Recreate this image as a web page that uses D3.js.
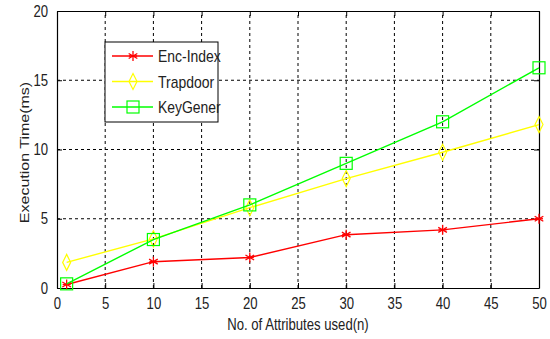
<!DOCTYPE html>
<html>
<head>
<meta charset="utf-8">
<script src="https://cdn.jsdelivr.net/npm/d3@7"></script>
<style>
  body { margin: 0; background: #fff; }
  text { font-family: "Liberation Sans", Arial, sans-serif; fill: #222; }
</style>
</head>
<body>
<script>
const attrs = [1, 10, 20, 30, 40, 50]
const encIndex = [0.25, 1.9, 2.2, 3.85, 4.2, 5.0]
const trapdoor = [1.85, 3.55, 5.8, 7.9, 9.8, 11.8]
const keyGener = [0.3, 3.5, 6.0, 9.0, 12.0, 15.9]
const xTicks = [0, 5, 10, 15, 20, 25, 30, 35, 40, 45, 50]
const yTicks = [0, 5, 10, 15, 20]

const series = [
  { name: 'Enc-Index', values: encIndex, color: '#ff0000', marker: 'star' },
  { name: 'Trapdoor', values: trapdoor, color: '#ffff00', marker: 'diamond' },
  { name: 'KeyGener', values: keyGener, color: '#00ff00', marker: 'square' },
]

const WIDTH = 550, HEIGHT = 339
const M = { left: 57, right: 11, top: 11, bottom: 51 }
const SQUEEZE = 0.82 // the original picture is squashed sideways

const svg = d3.select('body').append('svg')
  .attr('width', WIDTH)
  .attr('height', HEIGHT)

const x = d3.scaleLinear().domain([0, 50]).range([M.left, WIDTH - M.right])
const y = d3.scaleLinear().domain([0, 20]).range([HEIGHT - M.bottom, M.top])

function squeeze(sel) {
  sel.each(function () {
    const w = this.getComputedTextLength()
    d3.select(this).attr('textLength', w * SQUEEZE).attr('lengthAdjust', 'spacingAndGlyphs')
  })
}

// grid
const grid = svg.append('g')
grid.selectAll('.gx')
  .data(xTicks.slice(1, -1))
  .enter()
  .append('line')
  .attr('x1', d => x(d)).attr('x2', d => x(d))
  .attr('y1', y(0)).attr('y2', y(20))
  .attr('stroke', '#000').attr('stroke-width', 1)
  .attr('stroke-dasharray', '3,3')
grid.selectAll('.gy')
  .data(yTicks.slice(1, -1))
  .enter()
  .append('line')
  .attr('y1', d => y(d)).attr('y2', d => y(d))
  .attr('x1', x(0)).attr('x2', x(50))
  .attr('stroke', '#000').attr('stroke-width', 1)
  .attr('stroke-dasharray', '3,3')

// axes, ticks pointing inward
const bottomAxis = svg.append('g')
  .attr('transform', `translate(0, ${y(0)})`)
  .call(d3.axisBottom(x).tickValues(xTicks).tickSizeInner(-5).tickSizeOuter(0).tickPadding(9))
const topAxis = svg.append('g')
  .attr('transform', `translate(0, ${y(20)})`)
  .call(d3.axisTop(x).tickValues(xTicks).tickSizeInner(-5).tickSizeOuter(0).tickFormat(''))
const leftAxis = svg.append('g')
  .attr('transform', `translate(${x(0)}, 0)`)
  .call(d3.axisLeft(y).tickValues(yTicks).tickSizeInner(-5).tickSizeOuter(0).tickPadding(9))
const rightAxis = svg.append('g')
  .attr('transform', `translate(${x(50)}, 0)`)
  .call(d3.axisRight(y).tickValues(yTicks).tickSizeInner(-5).tickSizeOuter(0).tickFormat(''))

svg.selectAll('.domain').attr('stroke', '#000').attr('stroke-width', 1.2)
svg.selectAll('.tick line').attr('stroke', '#000')
svg.selectAll('.tick text')
  .style('font-family', '"Liberation Sans", Arial, sans-serif')
  .style('font-size', '16px')
  .attr('fill', '#222')
bottomAxis.selectAll('.tick text').attr('dy', '0.72em')
squeeze(svg.selectAll('.tick text'))

// axis labels
svg.append('text')
  .attr('x', (x(0) + x(50)) / 2)
  .attr('y', 330)
  .attr('text-anchor', 'middle')
  .style('font-size', '16px')
  .text('No. of Attributes used(n)')
  .call(squeeze)
svg.append('text')
  .attr('transform', `translate(29, ${(y(0) + y(20)) / 2 + 3}) scale(${SQUEEZE}, 1) rotate(-90)`)
  .attr('text-anchor', 'middle')
  .style('font-size', '16px')
  .text('Execution Time(ms)')

function drawMarker(g, type, color) {
  if (type === 'star') {
    const r = 5
    ;[0, 60, 120].forEach(a => {
      const rad = a * Math.PI / 180
      g.append('line')
        .attr('x1', -r * Math.sin(rad)).attr('y1', -r * Math.cos(rad))
        .attr('x2', r * Math.sin(rad)).attr('y2', r * Math.cos(rad))
        .attr('stroke', color).attr('stroke-width', 1.3)
    })
    g.append('line').attr('x1', -4).attr('x2', 4).attr('stroke', color).attr('stroke-width', 1.3)
  } else if (type === 'diamond') {
    g.append('path')
      .attr('d', 'M0,-8L4,0L0,8L-4,0Z')
      .attr('fill', 'none').attr('stroke', color).attr('stroke-width', 1.2)
  } else {
    g.append('rect')
      .attr('x', -6).attr('y', -6).attr('width', 12).attr('height', 12)
      .attr('fill', 'none').attr('stroke', color).attr('stroke-width', 1.2)
  }
}

const line = d3.line()
  .x((d, i) => x(attrs[i]))
  .y(d => y(d))

series.forEach(s => {
  svg.append('path')
    .datum(s.values)
    .attr('d', line)
    .attr('fill', 'none')
    .attr('stroke', s.color)
    .attr('stroke-width', 1.4)
  s.values.forEach((v, i) => {
    const g = svg.append('g').attr('transform', `translate(${x(attrs[i])}, ${y(v)})`)
    drawMarker(g, s.marker, s.color)
  })
})

// legend
const legend = svg.append('g').attr('transform', 'translate(105, 42)')
legend.append('rect')
  .attr('width', 113).attr('height', 80)
  .attr('fill', '#fff').attr('stroke', '#000').attr('stroke-width', 1)
series.forEach((s, i) => {
  const ly = 14 + i * 25.5
  legend.append('line')
    .attr('x1', 7).attr('x2', 48).attr('y1', ly).attr('y2', ly)
    .attr('stroke', s.color).attr('stroke-width', 1.4)
  const g = legend.append('g').attr('transform', `translate(28, ${ly})`)
  drawMarker(g, s.marker, s.color)
  legend.append('text')
    .attr('x', 53).attr('y', ly)
    .attr('dy', '0.36em')
    .style('font-size', '17px')
    .text(s.name)
    .call(squeeze)
})
</script>
</body>
</html>
